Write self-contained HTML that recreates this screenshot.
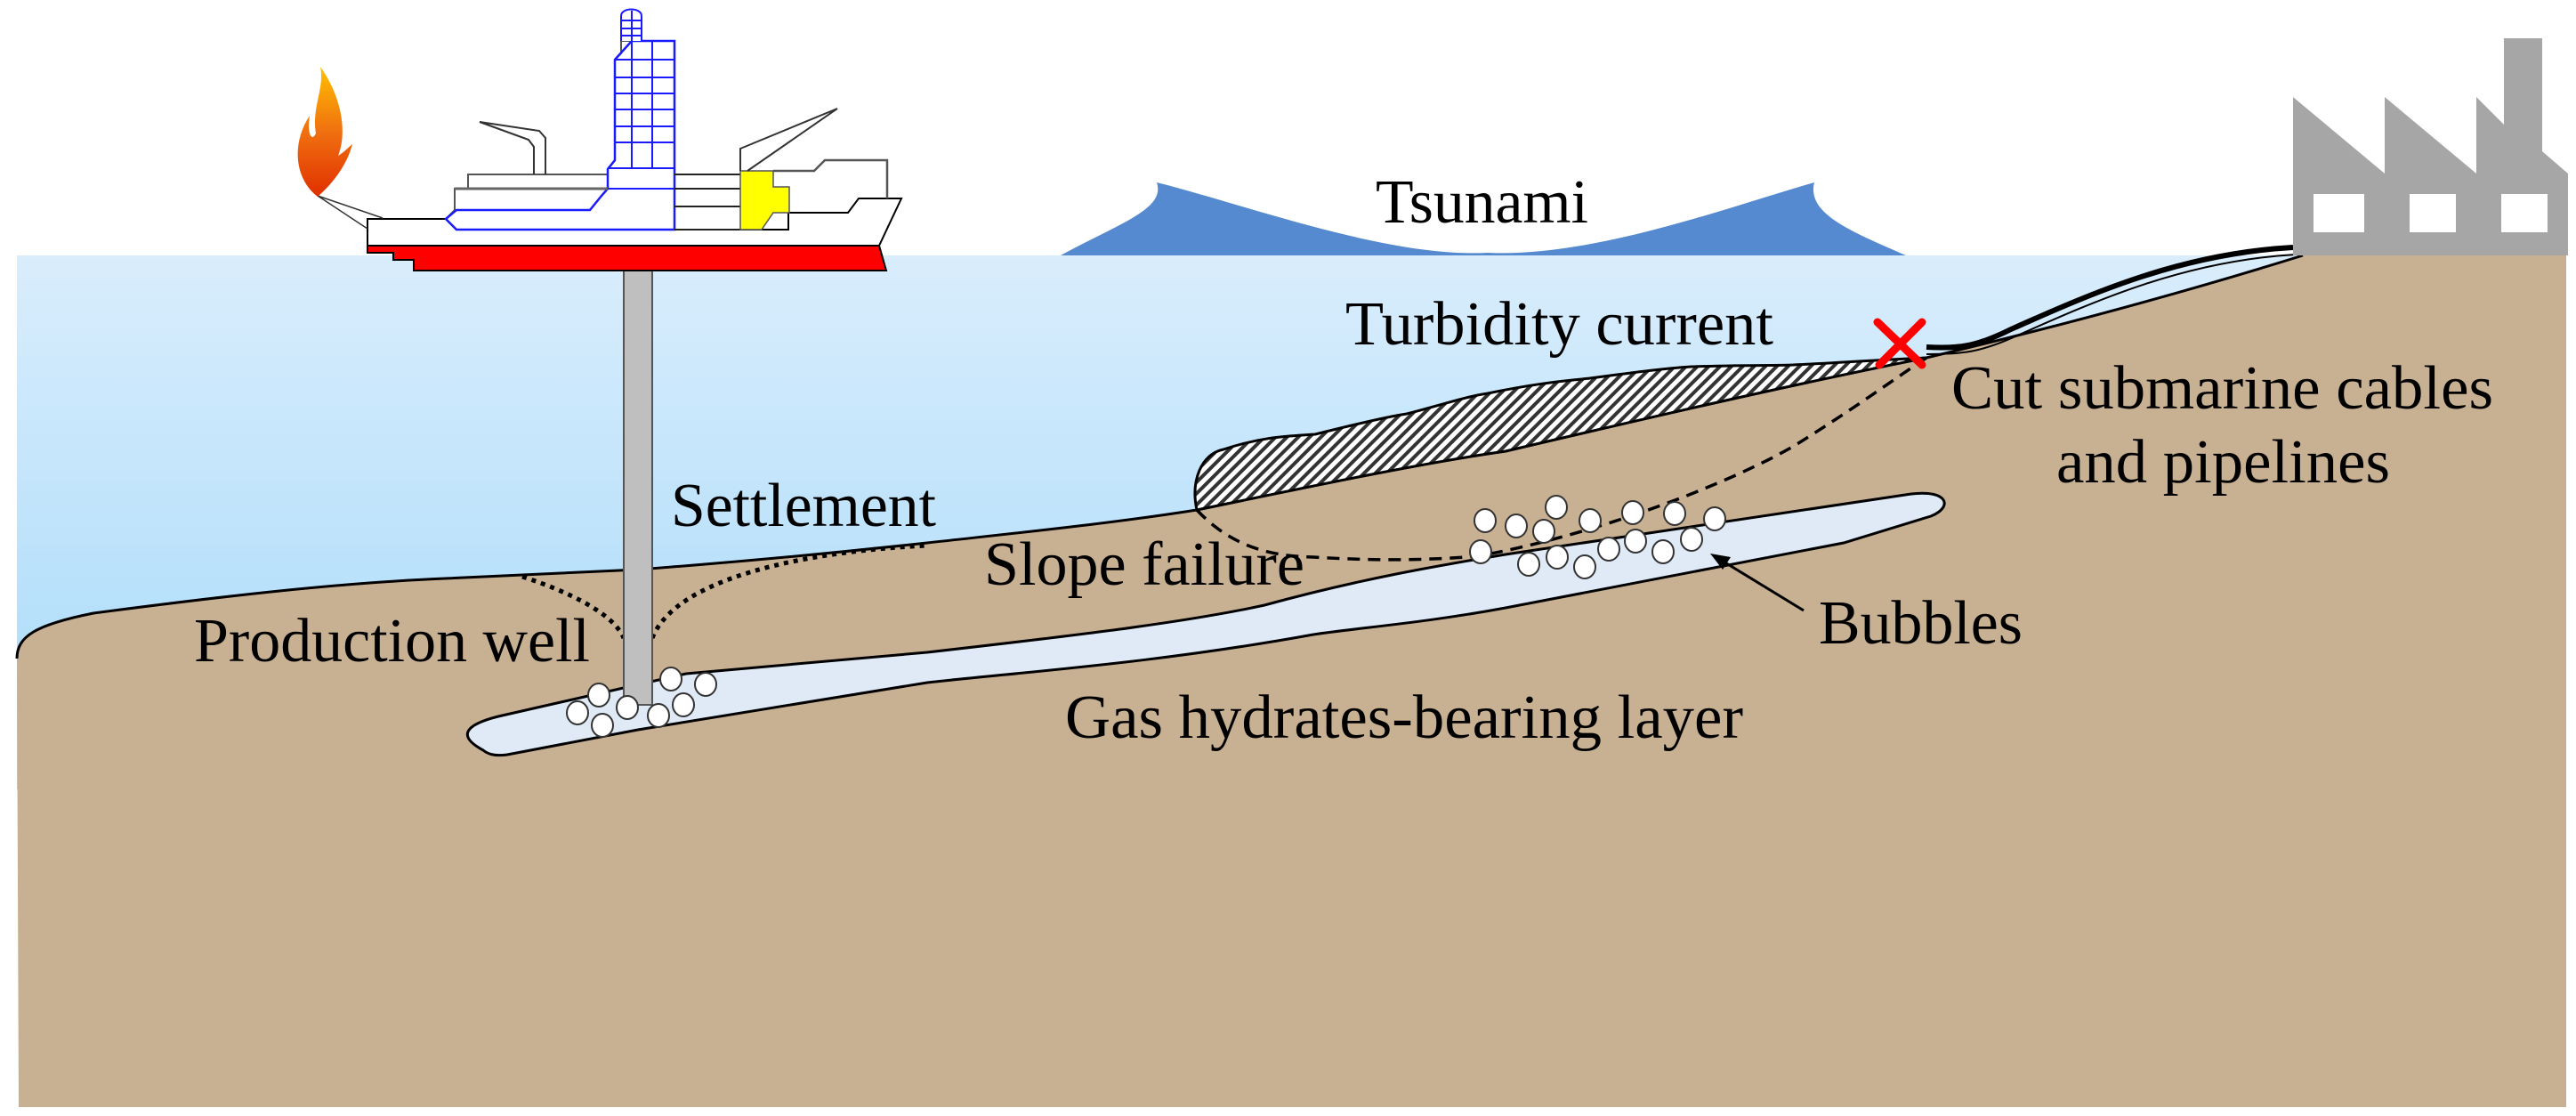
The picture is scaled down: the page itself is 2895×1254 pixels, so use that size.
<!DOCTYPE html>
<html><head><meta charset="utf-8"><style>
html,body{margin:0;padding:0;background:#fff;}
svg{display:block;}
text{font-family:"Liberation Serif",serif;font-size:70px;fill:#000;}
</style></head><body>
<svg width="2895" height="1254" viewBox="0 0 2895 1254" xmlns="http://www.w3.org/2000/svg">
<defs>
<linearGradient id="w" x1="0" y1="0" x2="0" y2="1">
<stop offset="0" stop-color="#d9edfc"/><stop offset="1" stop-color="#a6dafa"/>
</linearGradient>
<pattern id="h" width="9" height="9" patternUnits="userSpaceOnUse" patternTransform="rotate(45)">
<rect width="9" height="9" fill="#fff"/><rect width="4" height="9" fill="#333"/>
</pattern>
<linearGradient id="fl" x1="0" y1="0" x2="0" y2="1">
<stop offset="0" stop-color="#ffc000"/><stop offset="0.5" stop-color="#f07010"/><stop offset="1" stop-color="#e03000"/>
</linearGradient>
</defs>
<rect x="19" y="287" width="2865" height="600" fill="url(#w)"/>
<path d="M1192,287 C1260,250 1310,235 1300,205 C1400,230 1560,290 1672,284 C1790,290 1950,230 2039,205 C2030,240 2080,260 2142,287 Z" fill="#5589d0"/>
<path id="sb" d="M19,740 C19,715 40,702 105,689 C250,670 380,655 500,650 L717,640 C850,630 950,620 1042,610 C1150,598 1250,588 1345,573 C1480,545 1600,520 1692,507 C1850,470 2000,435 2165,402 C2300,370 2450,330 2588,287 L2884,287 L2884,1244 L21,1244 Z" fill="#c8b092"/>
<path d="M19,740 C19,715 40,702 105,689 C250,670 380,655 500,650 L717,640 C850,630 950,620 1042,610 C1150,598 1250,588 1345,573 C1480,545 1600,520 1692,507 C1850,470 2000,435 2165,402 C2300,370 2450,330 2588,287" fill="none" stroke="#000" stroke-width="3"/>
<path d="M1345,573 C1338,540 1350,510 1375,505 C1420,490 1450,490 1478,488 C1530,475 1560,468 1581,465 C1620,455 1650,445 1672,442 C1730,430 1760,428 1787,425 C1840,418 1870,414 1901,412 C1960,410 1990,411 2016,410 C2060,408 2080,406 2165,402 C2000,435 1850,470 1692,507 C1600,520 1480,545 1345,573 Z" fill="url(#h)" stroke="#000" stroke-width="3"/>
<path d="M543,843 C515,828 520,815 560,805 L771,757 L1042,733 C1200,715 1330,700 1421,680 C1530,650 1620,635 1692,623 L2148,555 C2190,550 2195,570 2170,580 L2072,610 L1692,683 C1600,700 1530,705 1476,713 C1300,745 1150,755 1042,767 L717,820 L570,848 C555,850 548,847 543,843 Z" fill="#dfeaf6" stroke="#000" stroke-width="3"/>
<path d="M1345,573 C1380,610 1420,625 1476,626 C1540,630 1600,630 1660,625 C1800,600 1950,540 2018,500 C2090,455 2130,425 2165,402" fill="none" stroke="#000" stroke-width="3.5" stroke-dasharray="14,9"/>
<path d="M587,648 C640,665 690,690 701,717" fill="none" stroke="#000" stroke-width="5" stroke-dasharray="5,6"/>
<path d="M733,717 C760,650 900,620 1042,613" fill="none" stroke="#000" stroke-width="5" stroke-dasharray="5,6"/>
<rect x="701" y="304" width="32" height="488" fill="#bfbfbf" stroke="#555" stroke-width="2"/>
<g fill="#fff" stroke="#333" stroke-width="2">
<ellipse cx="673" cy="781" rx="12" ry="13"/><ellipse cx="649" cy="801" rx="12" ry="13"/><ellipse cx="677" cy="815" rx="12" ry="13"/><ellipse cx="705" cy="795" rx="12" ry="13"/><ellipse cx="740" cy="804" rx="12" ry="13"/><ellipse cx="754" cy="763" rx="12" ry="13"/><ellipse cx="768" cy="792" rx="12" ry="13"/><ellipse cx="793" cy="769" rx="12" ry="13"/>
<ellipse cx="1669" cy="585" rx="12" ry="13"/><ellipse cx="1704" cy="591" rx="12" ry="13"/><ellipse cx="1749" cy="570" rx="12" ry="13"/><ellipse cx="1735" cy="597" rx="12" ry="13"/><ellipse cx="1787" cy="585" rx="12" ry="13"/><ellipse cx="1835" cy="576" rx="12" ry="13"/><ellipse cx="1882" cy="577" rx="12" ry="13"/><ellipse cx="1927" cy="583" rx="12" ry="13"/>
<ellipse cx="1664" cy="620" rx="12" ry="13"/><ellipse cx="1718" cy="634" rx="12" ry="13"/><ellipse cx="1750" cy="626" rx="12" ry="13"/><ellipse cx="1781" cy="637" rx="12" ry="13"/><ellipse cx="1808" cy="617" rx="12" ry="13"/><ellipse cx="1838" cy="608" rx="12" ry="13"/><ellipse cx="1869" cy="620" rx="12" ry="13"/><ellipse cx="1901" cy="606" rx="12" ry="13"/>
</g>
<line x1="2027" y1="686" x2="1932" y2="628" stroke="#000" stroke-width="3"/>
<path d="M1922,622 L1945,626 L1936,640 Z" fill="#000"/>
<path d="M2577,278 C2450,285 2350,330 2260,370 C2220,390 2200,392 2165,390" fill="none" stroke="#000" stroke-width="6"/>
<path d="M2580,286 C2455,293 2355,338 2265,378 C2225,396 2205,398 2165,398" fill="none" stroke="#000" stroke-width="2"/>
<g stroke="#ff0000" stroke-width="9" stroke-linecap="round">
<line x1="2110" y1="362" x2="2160" y2="410"/><line x1="2160" y1="362" x2="2112" y2="410"/>
</g>
<path d="M2577,287 L2577,109 L2680,195 L2680,109 L2783,195 L2783,109 L2814,140 L2814,43 L2857,43 L2857,170 L2886,195 L2886,287 Z" fill="#a6a6a6"/>
<g fill="#fff"><rect x="2600" y="218" width="57" height="43"/><rect x="2708" y="218" width="52" height="43"/><rect x="2811" y="218" width="52" height="43"/></g>
<path d="M413,276 L988,276 L996,304 L465,304 L465,292 L442,292 L442,284 L413,284 Z" fill="#ff0000" stroke="#000" stroke-width="2"/>
<path d="M413,246 L501,246 L513,258 L886,258 L886,239 L953,239 L965,223 L1013,223 L988,276 L413,276 Z" fill="#fff" stroke="#000" stroke-width="2"/>
<path d="M513,258 L501,246 L511,236 L511,212 L526,212 L526,196 L683,196 L683,190 L691,180 L691,67 L698,60 L698,46 L758,46 L758,258 Z" fill="#fff" stroke="#555" stroke-width="2"/>
<path d="M513,258 L501,246 L513,236 L663,236 L676,220 L683,212 L683,190 L691,180 L691,67 L710,46 L758,46 L758,258 Z" fill="none" stroke="#1a1aff" stroke-width="2.5"/>
<line x1="511" y1="212" x2="683" y2="212" stroke="#666" stroke-width="3"/>
<path d="M698,46 L698,18 C698,8 721,8 721,18 L721,46" fill="#fff" stroke="#1a1aff" stroke-width="2"/>
<g stroke="#1a1aff" stroke-width="2">
<line x1="710" y1="12" x2="710" y2="46"/><line x1="698" y1="23" x2="721" y2="23"/><line x1="698" y1="32" x2="721" y2="32"/><line x1="698" y1="40" x2="721" y2="40"/>
<line x1="710" y1="46" x2="710" y2="189"/><line x1="733" y1="46" x2="733" y2="189"/>
<line x1="691" y1="67" x2="758" y2="67"/><line x1="691" y1="87" x2="758" y2="87"/><line x1="691" y1="105" x2="758" y2="105"/><line x1="691" y1="123" x2="758" y2="123"/><line x1="691" y1="142" x2="758" y2="142"/><line x1="691" y1="160" x2="758" y2="160"/><line x1="683" y1="189" x2="758" y2="189"/>
<line x1="683" y1="212" x2="758" y2="212"/>
</g>
<path d="M758,196 L832,196 M758,212 L832,212 M758,232 L832,232 M758,258 L832,258" stroke="#222" stroke-width="2"/>
<path d="M869,192 L915,192 L927,180 L997,180 L997,223" fill="none" stroke="#555" stroke-width="2.5"/>
<path d="M832,192 L869,192 L869,210 L887,210 L887,239 L869,239 L856,258 L832,258 Z" fill="#ffff00" stroke="#555" stroke-width="1.5"/>
<path d="M832,192 L832,167 L941,122 L840,192" fill="none" stroke="#333" stroke-width="2"/>
<path d="M539,137 L606,147 L613,155 L613,196 M539,137 L594,157 L600,165 L600,196" fill="none" stroke="#333" stroke-width="2"/>
<path d="M357,220 L430,245 M357,220 L413,257" stroke="#333" stroke-width="1.5"/>
<path d="M357,221 C330,200 328,160 348,130 C345,150 350,160 355,150 C350,120 365,100 360,75 C385,110 390,150 380,175 C388,170 392,165 396,162 C390,185 375,205 357,221 Z" fill="url(#fl)"/>
<text x="1546" y="250" textLength="239" lengthAdjust="spacingAndGlyphs">Tsunami</text>
<text x="1512" y="387" textLength="481" lengthAdjust="spacingAndGlyphs">Turbidity current</text>
<text x="2193" y="459" textLength="609" lengthAdjust="spacingAndGlyphs">Cut submarine cables</text>
<text x="2311" y="542" textLength="375" lengthAdjust="spacingAndGlyphs">and pipelines</text>
<text x="754" y="591" textLength="298" lengthAdjust="spacingAndGlyphs">Settlement</text>
<text x="1106" y="657" textLength="360" lengthAdjust="spacingAndGlyphs">Slope failure</text>
<text x="218" y="743" textLength="445" lengthAdjust="spacingAndGlyphs">Production well</text>
<text x="2044" y="723" textLength="229" lengthAdjust="spacingAndGlyphs">Bubbles</text>
<text x="1197" y="829" textLength="762" lengthAdjust="spacingAndGlyphs">Gas hydrates-bearing layer</text>
</svg>
</body></html>
